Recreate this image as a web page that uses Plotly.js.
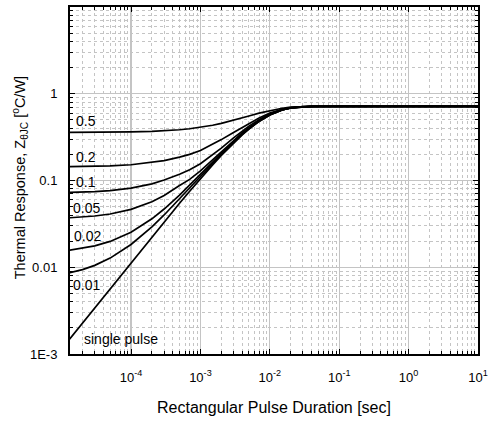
<!DOCTYPE html>
<html>
<head>
<meta charset="utf-8">
<script src="https://cdn.plot.ly/plotly-3.0.1.min.js"></script>
<style>
html,body{margin:0;padding:0;background:#fff;}
#chart{width:490px;height:424px;}
</style>
</head>
<body>
<div id="chart"></div>
<script>
// Rectangular pulse duration [sec]
const pulseDuration = [1.3e-5, 2e-5, 3e-5, 5e-5, 1e-4, 2e-4, 3e-4, 5e-4, 7e-4, 1e-3, 1.5e-3, 2e-3, 3e-3, 4e-3, 5e-3, 7e-3, 1e-2, 1.5e-2, 2e-2, 3e-2, 4e-2, 5e-2, 0.1, 1, 10];

// Thermal response Z_thetaJC [°C/W] for each duty cycle
const zD50    = [0.3582, 0.3586, 0.3592, 0.3603, 0.3631, 0.3687, 0.3741, 0.3848, 0.3951, 0.4100, 0.4333, 0.4548, 0.4929, 0.5256, 0.5534, 0.5973, 0.6380, 0.6800, 0.6995, 0.7120, 0.7144, 0.7149, 0.715, 0.715, 0.715];
const zD20    = [0.1442, 0.1448, 0.1457, 0.1475, 0.1520, 0.1609, 0.1696, 0.1860, 0.2000, 0.2220, 0.2600, 0.2960, 0.3580, 0.4110, 0.4560, 0.5267, 0.5980, 0.6621, 0.6911, 0.7101, 0.7140, 0.7148, 0.715, 0.715, 0.715];
const zD10    = [0.0728, 0.0735, 0.0746, 0.0766, 0.0816, 0.0916, 0.1014, 0.1180, 0.1330, 0.1560, 0.1960, 0.2360, 0.3100, 0.3720, 0.4240, 0.5031, 0.5834, 0.6555, 0.6881, 0.7095, 0.7139, 0.7147, 0.715, 0.715, 0.715];
const zD05    = [0.0372, 0.0379, 0.0390, 0.0411, 0.0465, 0.0570, 0.0673, 0.0876, 0.1030, 0.1290, 0.1720, 0.2130, 0.2870, 0.3551, 0.4079, 0.4914, 0.5761, 0.6522, 0.6866, 0.7092, 0.7139, 0.7147, 0.715, 0.715, 0.715];
const zD02    = [0.01575, 0.01653, 0.01763, 0.01984, 0.02534, 0.03619, 0.04689, 0.06776, 0.0880, 0.1172, 0.1628, 0.2049, 0.2797, 0.3437, 0.3982, 0.4843, 0.5717, 0.6502, 0.6857, 0.7090, 0.7138, 0.7147, 0.715, 0.715, 0.715];
const zD01    = [0.00862, 0.00940, 0.01052, 0.01274, 0.01830, 0.02927, 0.04007, 0.06116, 0.0816, 0.1111, 0.1571, 0.1997, 0.2752, 0.3399, 0.3949, 0.4820, 0.5703, 0.6496, 0.6854, 0.7089, 0.7138, 0.7147, 0.715, 0.715, 0.715];
const zSingle = [0.00148, 0.00227, 0.00340, 0.00565, 0.01126, 0.02234, 0.03325, 0.05455, 0.0752, 0.1050, 0.1515, 0.1945, 0.2708, 0.3361, 0.3917, 0.4796, 0.5688, 0.6489, 0.6851, 0.7089, 0.7138, 0.7147, 0.715, 0.715, 0.715];

const seriesNames = ["0.5", "0.2", "0.1", "0.05", "0.02", "0.01", "single pulse"];
const seriesValues = [zD50, zD20, zD10, zD05, zD02, zD01, zSingle];

const xTickVals = [1e-4, 1e-3, 1e-2, 1e-1, 1, 10];
const xTickText = ["10<sup>-4</sup>", "10<sup>-3</sup>", "10<sup>-2</sup>", "10<sup>-1</sup>", "10<sup>0</sup>", "10<sup>1</sup>"];
const yTickVals = [1e-3, 0.01, 0.1, 1, 10];
const yTickText = ["1E-3", "0.01", "0.1", "1", "10"];

// label positions in pixels (layout helpers)
const labelPos = [
  {x: 74, y: 120.5}, {x: 74, y: 157}, {x: 74, y: 182}, {x: 71, y: 207.5},
  {x: 72, y: 235.7}, {x: 71, y: 285.3}, {x: 82, y: 339}
];

function minorVals(lo, hi) {
  const v = [];
  for (let k = lo; k <= hi; k++) for (let d = 2; d <= 9; d++) v.push(d * Math.pow(10, k));
  return v;
}

const W = 490, H = 424;
const M = {l: 70, r: 12, t: 6.5, b: 70};
const pw = W - M.l - M.r, ph = H - M.t - M.b;

const traces = seriesValues.map((vals, i) => ({
  x: pulseDuration, y: vals, type: 'scatter', mode: 'lines',
  name: seriesNames[i],
  line: {color: '#000', width: 1.7, shape: 'linear'},
  hoverinfo: 'skip', showlegend: false
}));

const fontFam = '"Liberation Sans", Arial, sans-serif';

const annotations = seriesNames.map((n, i) => ({
  xref: 'paper', yref: 'paper',
  x: (labelPos[i].x - M.l) / pw, y: (H - M.b - labelPos[i].y) / ph,
  xanchor: 'left', yanchor: 'middle', showarrow: false,
  text: n, font: {family: fontFam, size: 14, color: '#000'}
}));
annotations.push({
  xref: 'paper', yref: 'paper',
  x: (20 - M.l) / pw, y: (H - M.b - 178) / ph,
  xanchor: 'center', yanchor: 'middle', showarrow: false, textangle: -90,
  text: 'Thermal Response, Z<sub>θJC</sub> [<sup>o</sup>C/W]',
  font: {family: fontFam, size: 14.5, color: '#000'}
});

const axisCommon = {
  type: 'log', showline: true, linecolor: '#000', linewidth: 2, mirror: 'allticks',
  ticks: 'inside', ticklen: 5, tickcolor: '#000', tickwidth: 1,
  showgrid: true, gridcolor: '#c4c4c4', gridwidth: 1.2, zeroline: false,
  tickfont: {family: fontFam, size: 13, color: '#000'},
  tickmode: 'array'
};

const layout = {
  width: W, height: H, margin: M,
  paper_bgcolor: '#fff', plot_bgcolor: '#fff',
  xaxis: Object.assign({}, axisCommon, {
    range: [Math.log10(1.32e-5), 1],
    tickvals: xTickVals, ticktext: xTickText, ticklabelstandoff: 10,
    minor: {tickmode: 'array', tickvals: minorVals(-5, 0), ticks: 'inside', ticklen: 3, tickcolor: '#000',
            showgrid: true, gridcolor: '#c4c4c4', griddash: 'dot', gridwidth: 1},
    title: {text: 'Rectangular Pulse Duration [sec]', font: {family: fontFam, size: 16, color: '#000'}, standoff: 18}
  }),
  yaxis: Object.assign({}, axisCommon, {
    range: [-3, 1],
    tickvals: yTickVals, ticktext: yTickText, ticklabelstandoff: 8,
    minor: {tickmode: 'array', tickvals: minorVals(-3, 0), ticks: 'inside', ticklen: 3, tickcolor: '#000',
            showgrid: true, gridcolor: '#c4c4c4', griddash: 'dot', gridwidth: 1}
  }),
  annotations: annotations,
  showlegend: false
};

Plotly.newPlot('chart', traces, layout, {staticPlot: true, displayModeBar: false});
</script>
</body>
</html>
